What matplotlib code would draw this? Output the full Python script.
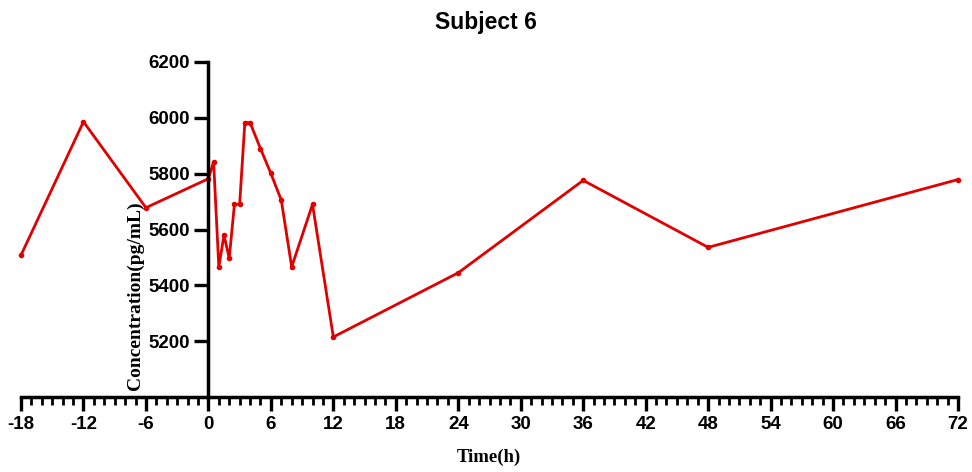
import matplotlib.pyplot as plt
from matplotlib.ticker import MultipleLocator

plt.rcParams['axes.unicode_minus'] = False

# sampling times (h) and measured concentration (pg/mL)
time_h = [-18, -12, -6, 0, 0.5, 1, 1.5, 2, 2.5, 3, 3.5, 4, 5, 6, 7, 8, 10, 12, 24, 36, 48, 72]
conc = [5508, 5986, 5678, 5782, 5843, 5466, 5580, 5497, 5690, 5690, 5983, 5983,
        5890, 5801, 5705, 5466, 5690, 5215, 5445, 5776, 5536, 5779]
xticks = list(range(-18, 73, 6))
yticks = [5200, 5400, 5600, 5800, 6000, 6200]

fig = plt.figure(figsize=(9.72, 4.72), dpi=100)
ax = fig.add_axes([21/972, 1 - 397/472, 937/972, 335/472])

ax.plot(time_h, conc, '-', color='#e00000', lw=2, marker='o', markersize=3, clip_on=False)

ax.set_xlim(-18, 72)
ax.set_ylim(5000, 6200)

# prism-style axes: y axis sits at x=0
for s in ['top', 'right']:
    ax.spines[s].set_visible(False)
ax.spines['left'].set_position(('data', 0))
ax.spines['left'].set_linewidth(2.5)
ax.spines['bottom'].set_linewidth(2.5)

ax.set_xticks(xticks)
ax.xaxis.set_minor_locator(MultipleLocator(1))
ax.set_yticks(yticks)
ax.tick_params(axis='both', which='major', direction='out', length=10, width=2.4, labelsize=13.5)
ax.tick_params(axis='x', which='minor', direction='out', length=6, width=2)
ax.tick_params(axis='x', pad=4)
for lbl in ax.get_xticklabels() + ax.get_yticklabels():
    lbl.set_fontweight('bold')
    lbl.set_family('Liberation Sans')

fig.text(0.5, 1 - 22/472, 'Subject 6', ha='center', va='center',
         fontsize=16.5, fontweight='bold', family='Liberation Sans')
fig.text(489/972, 1 - 457/472, 'Time(h)', ha='center', va='center',
         fontsize=13.5, fontweight='bold', family='Liberation Serif')
fig.text(135/972, 1 - 296/472, 'Concentration(pg/mL)', ha='center', va='center',
         rotation=90, fontsize=14, fontweight='bold', family='Liberation Serif')

fig.savefig('out.png', dpi=100)
